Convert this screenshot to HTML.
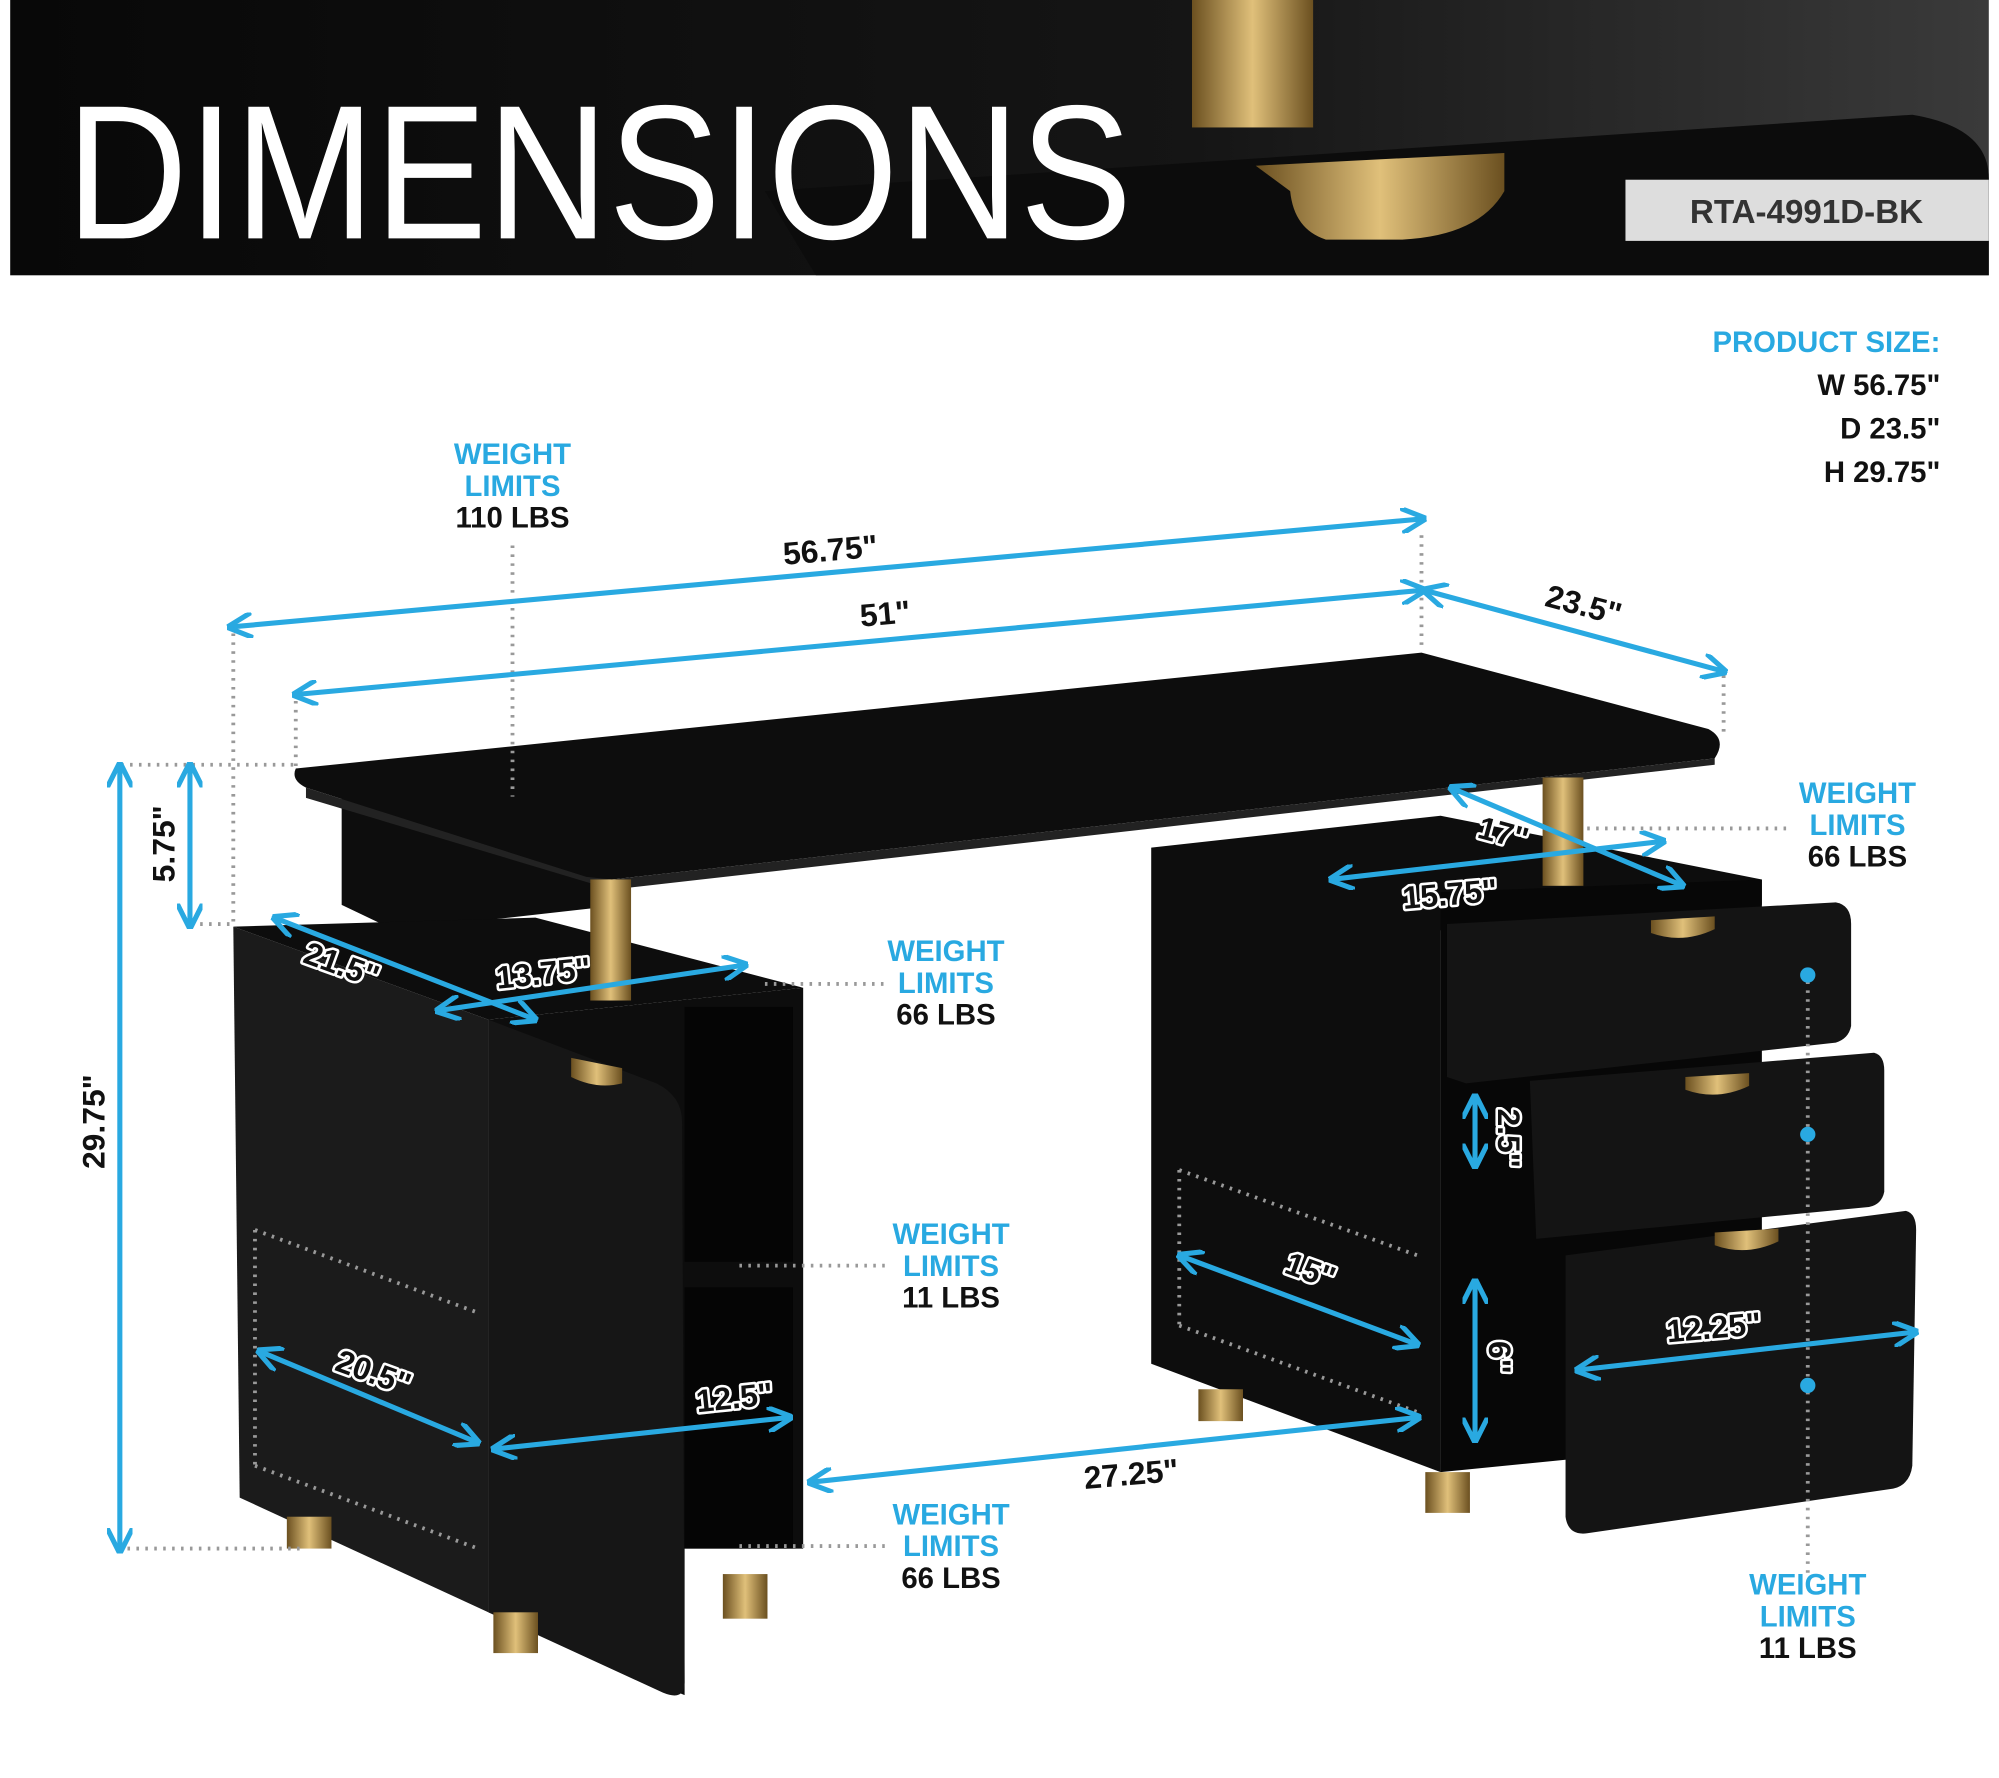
<!DOCTYPE html>
<html><head><meta charset="utf-8"><style>
html,body{margin:0;padding:0;background:#fff}
svg{display:block}
text{font-family:"Liberation Sans",sans-serif;font-weight:bold}
.h{paint-order:stroke;stroke:#fff;stroke-width:4px;stroke-linejoin:round}
</style></head><body>
<svg width="1999" height="1778" viewBox="0 0 1568 1395" preserveAspectRatio="none" xmlns="http://www.w3.org/2000/svg">
<defs>
<marker id="a" viewBox="0 0 10 10" refX="9" refY="5" markerWidth="5" markerHeight="5" orient="auto-start-reverse"><path d="M0,0 L10,5 L0,10" fill="none" stroke="#29a9e1" stroke-width="2"/></marker>
<linearGradient id="hd" x1="0" x2="1"><stop offset="0" stop-color="#080808"/><stop offset="0.6" stop-color="#151515"/><stop offset="1" stop-color="#3a3a3a"/></linearGradient>
<linearGradient id="gold" x1="0" x2="1"><stop offset="0" stop-color="#6b5020"/><stop offset="0.5" stop-color="#e0c07a"/><stop offset="1" stop-color="#6b5020"/></linearGradient>
</defs>
<rect x="8" y="0" width="1552" height="216" fill="url(#hd)"/>
<path d="M600,150 L1500,90 Q1560,100 1560,140 L1560,216 L640,216 Z" fill="#0c0c0c"/>
<rect x="935" y="0" width="95" height="100" fill="url(#gold)"/>
<path d="M985,130 L1180,120 L1180,150 Q1160,185 1100,188 L1040,188 Q1015,180 1012,150 Z" fill="url(#gold)"/>
<text x="52" y="187" font-size="150" textLength="836" lengthAdjust="spacingAndGlyphs" fill="#fff" style="font-weight:normal">DIMENSIONS</text>
<rect x="1275" y="141" width="285" height="48" fill="#ddd"/>
<text x="1417" y="175" font-size="26" fill="#333" text-anchor="middle">RTA-4991D-BK</text>
<g text-anchor="end" font-size="23">
<text x="1522" y="276" fill="#29a9e1">PRODUCT SIZE:</text>
<text x="1522" y="310" fill="#111">W 56.75"</text>
<text x="1522" y="344" fill="#111">D 23.5"</text>
<text x="1522" y="378" fill="#111">H 29.75"</text>
</g>
<g fill="#0d0d0d">
<polygon points="268,625 470,640 470,712 310,730 268,710"/>
<polygon points="183,727 383,800 383,1265 188,1175" fill="#1b1b1b"/>
<polygon points="183,727 420,720 630,775 383,800"/>
<polygon points="383,800 630,775 630,1215 537,1215 537,1330 383,1265"/>
<path d="M383,800 L515,850 Q535,860 535,880 L537,1320 Q537,1335 520,1328 L383,1265 Z" fill="#161616"/>
<rect x="537" y="790" width="85" height="200" fill="#050505"/>
<rect x="537" y="1010" width="85" height="205" fill="#050505"/>
<polygon points="903,665 1130,640 1382,690 1382,710 1130,730 1130,1155 903,1070"/>
<polygon points="1130,700 1382,690 1382,1130 1130,1155" fill="#070707"/>
<path d="M1135,725 L1440,708 Q1452,710 1452,725 L1452,805 Q1450,815 1440,818 L1150,850 L1135,845 Z" fill="#141414"/>
<path d="M1200,848 L1470,826 Q1478,828 1478,840 L1478,935 Q1476,945 1466,947 L1205,972 Z" fill="#141414"/>
<path d="M1228,985 L1495,950 Q1503,952 1503,965 L1500,1150 Q1498,1165 1485,1168 L1245,1203 Q1230,1205 1228,1190 Z" fill="#141414"/>
<path d="M232,603 L1115,512 L1340,572 Q1355,580 1345,595 L480,690 Q470,690 460,688 L240,618 Q228,612 232,603 Z"/>
<path d="M240,618 L460,688 L480,690 L1345,595 L1345,600 L480,698 L240,626 Z" fill="#222"/>
</g>
<g fill="url(#gold)">
<rect x="463" y="690" width="32" height="95"/>
<rect x="1210" y="610" width="32" height="85"/>
<rect x="225" y="1190" width="35" height="25"/><rect x="387" y="1265" width="35" height="32"/>
<rect x="567" y="1235" width="35" height="35"/><rect x="940" y="1090" width="35" height="25"/>
<rect x="1118" y="1155" width="35" height="32"/>
<path d="M448,830 l40,8 l0,12 q-20,5 -40,-5z"/><path d="M1295,722 l50,-3 l0,10 q-25,12 -50,3z"/>
<path d="M1322,845 l50,-3 l0,10 q-25,12 -50,3z"/><path d="M1345,967 l50,-3 l0,10 q-25,12 -50,3z"/>
</g>
<g stroke="#999" stroke-width="3" stroke-dasharray="2,5" fill="none">
<path d="M402,428 V625"/><path d="M1115,420 V510"/><path d="M1352,530 V578"/>
<path d="M183,490 V727"/><path d="M232,550 V603"/><path d="M95,600 H232"/><path d="M150,725 H185"/>
<path d="M100,1215 H235"/><path d="M600,772 H695"/><path d="M580,993 H695"/><path d="M580,1213 H695"/>
<path d="M1245,650 H1405"/><path d="M1418,770 V1235"/>
<path d="M200,965 L375,1030 M200,965 V1150 M200,1150 L375,1215"/>
<path d="M925,918 L1112,985 M925,918 V1040 M925,1040 L1112,1108"/>
</g>
<g fill="#29a9e1"><circle cx="1418" cy="765" r="6"/><circle cx="1418" cy="890" r="6"/><circle cx="1418" cy="1087" r="6"/></g>
<g stroke="#29a9e1" stroke-width="4" fill="none" marker-start="url(#a)" marker-end="url(#a)">
<line x1="180" y1="492" x2="1117" y2="407"/>
<line x1="231" y1="545" x2="1117" y2="463"/>
<line x1="1117" y1="463" x2="1353" y2="527"/>
<line x1="94" y1="600" x2="94" y2="1217"/>
<line x1="149" y1="600" x2="149" y2="727"/>
<line x1="215" y1="720" x2="420" y2="800"/>
<line x1="343" y1="793" x2="585" y2="757"/>
<line x1="1138" y1="618" x2="1320" y2="695"/>
<line x1="1044" y1="690" x2="1305" y2="660"/>
<line x1="1157" y1="860" x2="1157" y2="915"/>
<line x1="925" y1="985" x2="1112" y2="1055"/>
<line x1="1157" y1="1005" x2="1157" y2="1130"/>
<line x1="1237" y1="1075" x2="1503" y2="1045"/>
<line x1="203" y1="1060" x2="375" y2="1132"/>
<line x1="387" y1="1137" x2="620" y2="1112"/>
<line x1="635" y1="1163" x2="1113" y2="1112"/>
</g>
<g font-size="25" fill="#111" class="h">
<text x="652" y="440" transform="rotate(-5 652 440)" text-anchor="middle">56.75"</text>
<text x="695" y="490" transform="rotate(-5 695 490)" text-anchor="middle">51"</text>
<text x="1240" y="483" transform="rotate(15 1240 483)" text-anchor="middle">23.5"</text>
<text x="82" y="880" transform="rotate(-90 82 880)" text-anchor="middle">29.75"</text>
<text x="137" y="662" transform="rotate(-90 137 662)" text-anchor="middle">5.75"</text>
<text x="265" y="765" transform="rotate(20 265 765)" text-anchor="middle">21.5"</text>
<text x="427" y="772" transform="rotate(-6 427 772)" text-anchor="middle">13.75"</text>
<text x="1177" y="662" transform="rotate(15 1177 662)" text-anchor="middle">17"</text>
<text x="1138" y="710" transform="rotate(-5 1138 710)" text-anchor="middle">15.75"</text>
<text x="1175" y="893" transform="rotate(90 1175 893)" text-anchor="middle">2.5"</text>
<text x="1025" y="1005" transform="rotate(20 1025 1005)" text-anchor="middle">15"</text>
<text x="1168" y="1065" transform="rotate(90 1168 1065)" text-anchor="middle">6"</text>
<text x="1345" y="1050" transform="rotate(-5 1345 1050)" text-anchor="middle">12.25"</text>
<text x="290" y="1085" transform="rotate(20 290 1085)" text-anchor="middle">20.5"</text>
<text x="577" y="1105" transform="rotate(-6 577 1105)" text-anchor="middle">12.5"</text>
<text x="888" y="1165" transform="rotate(-5 888 1165)" text-anchor="middle">27.25"</text>
</g>
<g font-size="23" text-anchor="middle">
<text x="402" y="364" fill="#29a9e1">WEIGHT</text><text x="402" y="389" fill="#29a9e1">LIMITS</text><text x="402" y="414" fill="#111">110 LBS</text>
<text x="742" y="754" fill="#29a9e1">WEIGHT</text><text x="742" y="779" fill="#29a9e1">LIMITS</text><text x="742" y="804" fill="#111">66 LBS</text>
<text x="1457" y="630" fill="#29a9e1">WEIGHT</text><text x="1457" y="655" fill="#29a9e1">LIMITS</text><text x="1457" y="680" fill="#111">66 LBS</text>
<text x="746" y="976" fill="#29a9e1">WEIGHT</text><text x="746" y="1001" fill="#29a9e1">LIMITS</text><text x="746" y="1026" fill="#111">11 LBS</text>
<text x="746" y="1196" fill="#29a9e1">WEIGHT</text><text x="746" y="1221" fill="#29a9e1">LIMITS</text><text x="746" y="1246" fill="#111">66 LBS</text>
<text x="1418" y="1251" fill="#29a9e1">WEIGHT</text><text x="1418" y="1276" fill="#29a9e1">LIMITS</text><text x="1418" y="1301" fill="#111">11 LBS</text>
</g>
</svg>
</body></html>
